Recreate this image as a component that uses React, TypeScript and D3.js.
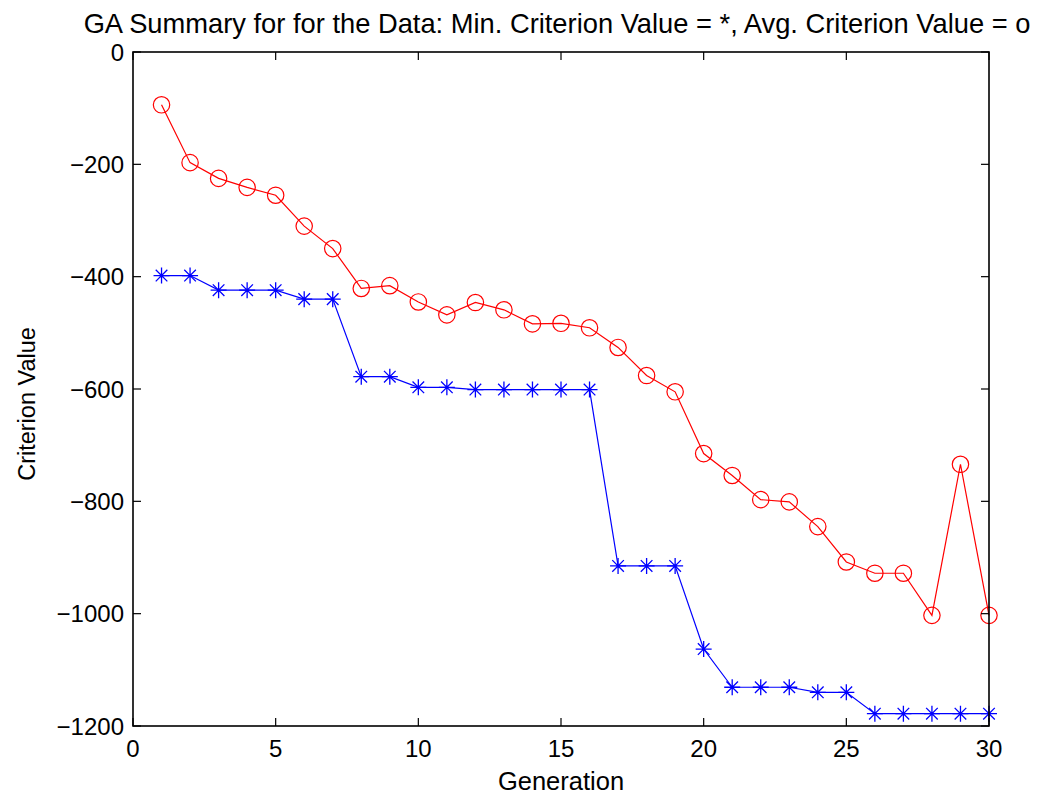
import React from "react";
import * as d3 from "d3";

// Genetic-algorithm run summary: per-generation minimum and average criterion values
const generations = d3.range(1, 31);
const minCriterion = [
  -398, -398, -424, -424, -424, -440, -440, -578, -578, -597,
  -597, -601, -601, -601, -601, -601, -915, -915, -915, -1063,
  -1131, -1131, -1131, -1140, -1140, -1178, -1178, -1178, -1178, -1178,
];
const avgCriterion = [
  -94, -197, -225, -241, -255, -310, -350, -421, -416, -445,
  -468, -446, -459, -484, -483, -491, -526, -576, -605, -715,
  -754, -797, -801, -845, -908, -928, -928, -1003, -734, -1003,
];
const xTicks = [0, 5, 10, 15, 20, 25, 30];
const yTicks = [0, -200, -400, -600, -800, -1000, -1200];

const W = 1041;
const H = 800;
const M = { left: 133, right: 989, top: 52, bottom: 726 };
const FONT = "'Liberation Sans', Arial, Helvetica, sans-serif";

export default function App() {
  const x = d3.scaleLinear().domain([0, 30]).range([M.left, M.right]);
  const y = d3.scaleLinear().domain([-1200, 0]).range([M.bottom, M.top]);
  const line = d3
    .line<number>()
    .x((_, i) => x(generations[i]))
    .y((v) => y(v));
  const fmt = (v: number) => (v < 0 ? "\u2212" + Math.abs(v) : String(v));
  const tickLen = 8;

  return (
    <svg
      width={W}
      height={H}
      style={{ position: "absolute", left: 0, top: 0, background: "#fff" }}
      fontFamily={FONT}
    >
      <rect x={0} y={0} width={W} height={H} fill="#fff" />

      {/* data series */}
      <path d={line(avgCriterion) || ""} fill="none" stroke="#ff0000" strokeWidth={1.2} />
      <path d={line(minCriterion) || ""} fill="none" stroke="#0000ff" strokeWidth={1.2} />
      {avgCriterion.map((v, i) => (
        <circle key={"o" + i} cx={x(generations[i])} cy={y(v)} r={8.2} fill="none" stroke="#ff0000" strokeWidth={1.2} />
      ))}
      {minCriterion.map((v, i) => {
        const cx = x(generations[i]);
        const cy = y(v);
        const a = 8;
        const b = 5.8;
        return (
          <path
            key={"s" + i}
            d={`M${cx - a},${cy}H${cx + a}M${cx},${cy - a}V${cy + a}M${cx - b},${cy - b}L${cx + b},${cy + b}M${cx - b},${cy + b}L${cx + b},${cy - b}`}
            stroke="#0000ff"
            strokeWidth={1.3}
            fill="none"
          />
        );
      })}

      {/* axes box with inward ticks on all sides */}
      <rect x={M.left} y={M.top} width={M.right - M.left} height={M.bottom - M.top} fill="none" stroke="#000" strokeWidth={1.6} />
      {xTicks.map((t) => (
        <g key={"xt" + t}>
          <line x1={x(t)} x2={x(t)} y1={M.bottom} y2={M.bottom - tickLen} stroke="#000" strokeWidth={1.2} />
          <line x1={x(t)} x2={x(t)} y1={M.top} y2={M.top + tickLen} stroke="#000" strokeWidth={1.2} />
          <text x={x(t)} y={M.bottom + 31} textAnchor="middle" fontSize={24} fill="#000">
            {fmt(t)}
          </text>
        </g>
      ))}
      {yTicks.map((t) => (
        <g key={"yt" + t}>
          <line x1={M.left} x2={M.left + tickLen} y1={y(t)} y2={y(t)} stroke="#000" strokeWidth={1.2} />
          <line x1={M.right} x2={M.right - tickLen} y1={y(t)} y2={y(t)} stroke="#000" strokeWidth={1.2} />
          <text x={M.left - 9} y={y(t) + 8.5} textAnchor="end" fontSize={24} fill="#000">
            {fmt(t)}
          </text>
        </g>
      ))}

      {/* labels */}
      <text x={557} y={33} textAnchor="middle" fontSize={27.3} fill="#000">
        GA Summary for for the Data: Min. Criterion Value = *, Avg. Criterion Value = o
      </text>
      <text x={(M.left + M.right) / 2} y={790} textAnchor="middle" fontSize={25.5} fill="#000">
        Generation
      </text>
      <text
        transform={`translate(35,404) rotate(-90)`}
        textAnchor="middle"
        fontSize={23.5}
        fill="#000"
      >
        Criterion Value
      </text>
    </svg>
  );
}
